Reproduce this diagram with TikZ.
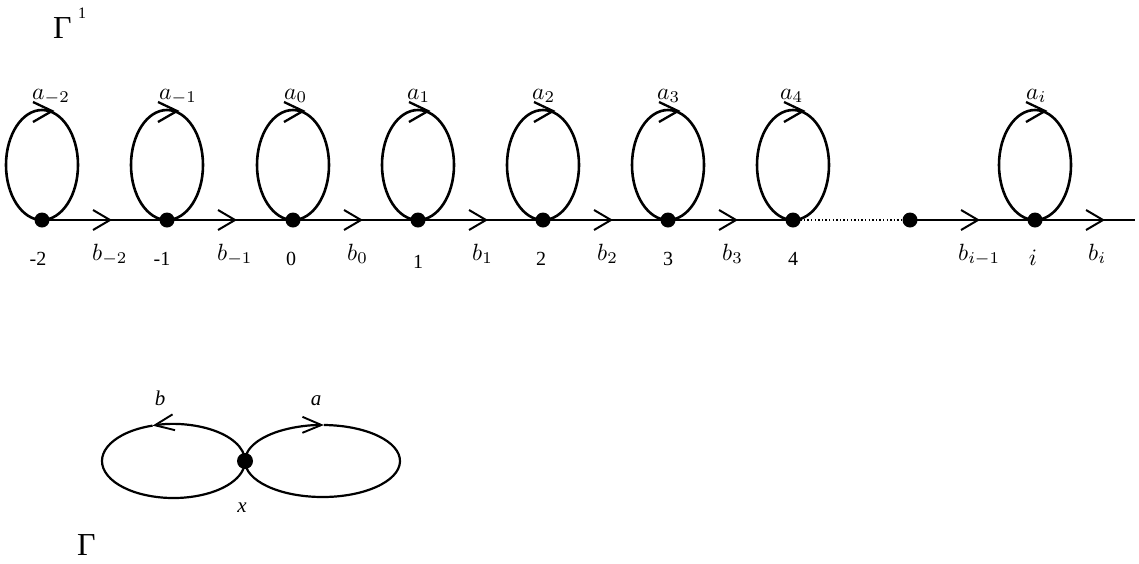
\documentclass[tikz,border=0pt]{standalone}
\usepackage{graphicx}
\usepackage{fontspec}
\newfontfamily\tnr{Liberation Serif}
\usetikzlibrary{arrows.meta,decorations.markings}
\newcommand{\lblm}[1]{\scalebox{2.35}{$#1$}}
\begin{document}
\begin{tikzpicture}[x=1pt,y=-1pt,
  vtx/.style={circle,fill=black,inner sep=0pt,minimum size=15pt},
  vtxb/.style={circle,fill=black,inner sep=0pt,minimum size=16pt},
  edgeline/.style={line width=2pt},
  barb/.style={postaction={decorate},decoration={markings,mark=at position #1 with {\arrow{Straight Barb[length=17pt,width=20pt,line width=2pt]}}}},
  loopline/.style={line width=2.6pt},
  lhead/.style={line width=2.3pt,line join=miter},
  stip/.style={-{Straight Barb[length=19pt,width=16pt,line width=1.9pt]}},
  num/.style={inner sep=0pt,anchor=base,font=\tnr\fontsize{20}{24}\selectfont},
  mlab/.style={inner sep=0pt,anchor=base west},
  tlab/.style={inner sep=0pt,anchor=base,font=\tnr\itshape\fontsize{21}{25}\selectfont},
  gam/.style={inner sep=0pt,anchor=base west,font=\tnr\fontsize{32}{36}\selectfont},
]
\useasboundingbox (0,0) rectangle (1139,563);

% ---------- upper graph ----------
\node[gam] (G1) at (53,38) {Γ};
\node[inner sep=0pt,anchor=base west,font=\tnr\fontsize{16}{18}\selectfont] (G1s) at (78,18) {1};

\node[vtx] (vm2) at (42,220) {};
\node[vtx] (vm1) at (167,220) {};
\node[vtx] (v0) at (293,220) {};
\node[vtx] (v1) at (418,220) {};
\node[vtx] (v2) at (543,220) {};
\node[vtx] (v3) at (668,220) {};
\node[vtx] (v4) at (793,220) {};
\node[vtx] (vd) at (910,220) {};
\node[vtx] (vi) at (1035,220) {};
\coordinate (vend) at (1135,220);

\foreach \a/\b in {vm2/vm1,vm1/v0,v0/v1,v1/v2,v2/v3,v3/v4,vd/vi,vi/vend}
  \draw[edgeline,barb=70pt] (\a.center) -- (\b.center);
\draw[line width=1.2pt,dash pattern=on 1.3pt off 2.3pt] (v4.center) -- (vd.center);

\foreach \v in {vm2,vm1,v0,v1,v2,v3,v4,vi}{
  \draw[loopline] (\v.center) arc[start angle=270,end angle=-90,x radius=36pt,y radius=55pt];
  \draw[lhead] ([shift={(-9,-118)}]\v.center) -- ([shift={(10,-109)}]\v.center) -- ([shift={(-9,-98)}]\v.center);
}

% loop labels
\node[mlab] (am2) at (32,99) {\lblm{a_{-2}}};
\node[mlab] (am1) at (159,99) {\lblm{a_{-1}}};
\node[mlab] (a0) at (284,99) {\lblm{a_{0}}};
\node[mlab] (a1) at (407,99) {\lblm{a_{1}}};
\node[mlab] (a2) at (532,99) {\lblm{a_{2}}};
\node[mlab] (a3) at (657,99) {\lblm{a_{3}}};
\node[mlab] (a4) at (780,99) {\lblm{a_{4}}};
\node[mlab] (ai) at (1026,99) {\lblm{a_{i}}};

% edge labels
\node[mlab] (bm2) at (92,260) {\lblm{b_{-2}}};
\node[mlab] (bm1) at (217,260) {\lblm{b_{-1}}};
\node[mlab] (b0) at (347,260) {\lblm{b_{0}}};
\node[mlab] (b1) at (472,260) {\lblm{b_{1}}};
\node[mlab] (b2) at (597,260) {\lblm{b_{2}}};
\node[mlab] (b3) at (722,260) {\lblm{b_{3}}};
\node[mlab] (bim1) at (958,260) {\lblm{b_{i-1}}};
\node[mlab] (bi) at (1088,260) {\lblm{b_{i}}};

% vertex labels
\node[num] (nm2) at (38,265) {-2};
\node[num] (nm1) at (162,265) {-1};
\node[num] (n0) at (291,265) {0};
\node[num] (n1) at (418,268) {1};
\node[num] (n2) at (541,265) {2};
\node[num] (n3) at (668,265) {3};
\node[num] (n4) at (793,265) {4};
\node[inner sep=0pt,anchor=base] (ni) at (1033,265) {\lblm{i}};

% ---------- lower graph ----------
\node[vtxb] (x) at (245,461) {};
\draw[line width=2.2pt,stip] (x.center) arc[start angle=0,end angle=107,x radius=71.5pt,y radius=37pt] coordinate (xl);
\draw[line width=2.2pt] (xl) arc[start angle=107,end angle=360,x radius=71.5pt,y radius=37pt];
\draw[line width=2.2pt,stip] (x.center) arc[start angle=180,end angle=89,x radius=77.5pt,y radius=36pt] coordinate (xr);
\draw[line width=2.2pt] (xr) arc[start angle=89,end angle=-180,x radius=77.5pt,y radius=36pt];

\node[tlab] (lb) at (160,405) {b};
\node[tlab] (la) at (316,405) {a};
\node[tlab] (lx) at (242,512) {x};
\node[gam] (G) at (77,555) {Γ};
\end{tikzpicture}
\end{document}
